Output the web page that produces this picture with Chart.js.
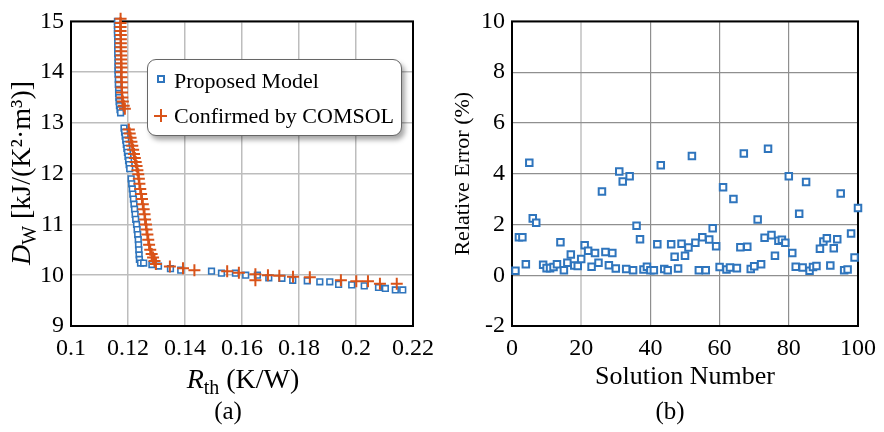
<!DOCTYPE html>
<html>
<head>
<meta charset="utf-8">
<script src="https://cdn.jsdelivr.net/npm/chart.js@4.4.1/dist/chart.umd.min.js"></script>
<style>
body { margin: 0; background: #fff; }
#wrap { position: relative; width: 884px; height: 432px; font-family: "Liberation Serif", serif; }
canvas { position: absolute; top: 0; }
.cap { position: absolute; top: 397px; width: 60px; text-align: center; font-size: 25px; }
#legend { position: absolute; left: 147px; top: 59px; width: 255px; height: 77px; border: 1.5px solid #666;
  border-radius: 9px; background: #fff; box-shadow: 3px 4px 5px rgba(0,0,0,0.35); box-sizing: border-box; font-size: 22px; }
.row { position: absolute; left: 26px; height: 30px; line-height: 30px; white-space: nowrap; }
.sq { position: absolute; left: 9px; width: 4px; height: 4px; border: 2px solid #2f75bd; }
.pl { position: absolute; left: 6px; width: 13px; height: 13px; }
.pl:before, .pl:after { content: ""; position: absolute; background: #d95319; }
.pl:before { left: 0; top: 5.5px; width: 13px; height: 2px; }
.pl:after { left: 5.5px; top: 0; width: 2px; height: 13px; }
</style>
</head>
<body>
<div id="wrap">
  <canvas id="chart-a" width="442" height="432" style="left:0"></canvas>
  <canvas id="chart-b" width="442" height="432" style="left:442px"></canvas>
  <div id="legend"></div>
  <div class="cap" style="left:198px">(a)</div>
  <div class="cap" style="left:640px">(b)</div>
</div>
<script>
// (a) D_W vs R_th
const rthModel = [0.1163, 0.1163, 0.1163, 0.1163, 0.1164, 0.1164, 0.1164, 0.1164, 0.1164, 0.1165, 0.1165, 0.1165, 0.1165, 0.1165,
  0.1166, 0.1166, 0.1167, 0.1167, 0.1168, 0.1169, 0.1170, 0.1172, 0.1174,
  0.1186, 0.1188, 0.1190, 0.1192, 0.1194, 0.1196, 0.1198, 0.1200, 0.1202, 0.1204, 0.1206, 0.1211, 0.1213, 0.1215,
  0.1217, 0.1219, 0.1221, 0.1223, 0.1225, 0.1227, 0.1230, 0.1232, 0.1234, 0.1236, 0.1237, 0.1238, 0.1239, 0.1240, 0.1244,
  0.1255, 0.1284, 0.1307, 0.1349, 0.1385, 0.1493, 0.1528, 0.1577, 0.1613, 0.1654, 0.1694, 0.1740, 0.1778, 0.1829,
  0.1873, 0.1908, 0.1939, 0.1985, 0.2029, 0.2079, 0.2103, 0.2138, 0.2164];
const dwModel = [15.00, 14.92, 14.84, 14.76, 14.68, 14.60, 14.52, 14.44, 14.36, 14.28, 14.20, 14.12, 14.04, 13.96,
  13.86, 13.76, 13.66, 13.58, 13.50, 13.42, 13.34, 13.26, 13.20,
  12.90, 12.82, 12.74, 12.66, 12.58, 12.50, 12.42, 12.34, 12.26, 12.18, 12.10, 11.90, 11.80, 11.70,
  11.60, 11.50, 11.40, 11.30, 11.20, 11.10, 11.00, 10.90, 10.80, 10.70, 10.60, 10.50, 10.40, 10.31, 10.24,
  10.24, 10.21, 10.18, 10.13, 10.10, 10.08, 10.04, 10.04, 10.00, 10.00, 9.95, 9.94, 9.90, 9.89,
  9.87, 9.87, 9.82, 9.81, 9.79, 9.76, 9.74, 9.71, 9.71];
const rthComsol = [0.1174, 0.1174, 0.1174, 0.1174, 0.1175, 0.1175, 0.1175, 0.1175, 0.1176, 0.1176, 0.1176, 0.1176, 0.1177, 0.1177,
  0.1177, 0.1178, 0.1178, 0.1179, 0.1180, 0.1182, 0.1185, 0.1189,
  0.1203, 0.1206, 0.1209, 0.1212, 0.1215, 0.1218, 0.1221, 0.1224, 0.1227, 0.1230, 0.1233, 0.1236, 0.1238, 0.1240,
  0.1243, 0.1246, 0.1249, 0.1252, 0.1255, 0.1258, 0.1260, 0.1263, 0.1265, 0.1268, 0.1271, 0.1274, 0.1278, 0.1283,
  0.1288, 0.1293, 0.1298,
  0.1347, 0.1393, 0.1433, 0.1548, 0.1589, 0.1647, 0.1647, 0.1691, 0.1731, 0.1779, 0.1838, 0.1947, 0.2001, 0.2042,
  0.2084, 0.2143];
const dwComsol = [15.05, 14.97, 14.89, 14.81, 14.73, 14.65, 14.57, 14.49, 14.41, 14.33, 14.25, 14.17, 14.09, 14.00,
  13.90, 13.80, 13.70, 13.60, 13.50, 13.42, 13.34, 13.28,
  12.87, 12.79, 12.71, 12.63, 12.55, 12.47, 12.39, 12.31, 12.23, 12.15, 12.07, 11.99, 11.90, 11.80,
  11.70, 11.60, 11.50, 11.40, 11.30, 11.20, 11.10, 11.00, 10.90, 10.80, 10.70, 10.60, 10.50, 10.42,
  10.35, 10.28, 10.22,
  10.17, 10.14, 10.10, 10.08, 10.05, 10.02, 9.90, 10.00, 9.99, 9.97, 9.96, 9.90, 9.88, 9.88,
  9.83, 9.83];

// (b) relative error per solution
const solutionNo = [1, 2, 3, 4, 5, 6, 7, 9, 10, 11, 12, 13, 14, 15, 16, 17, 18, 19, 20,
  21, 22, 23, 24, 25, 26, 27, 28, 29, 30, 31, 32, 33, 34, 35, 36, 37, 38, 39, 40,
  41, 42, 43, 44, 45, 46, 47, 48, 49, 50, 51, 52, 53, 54, 55, 56, 57, 58, 59, 60,
  61, 62, 63, 64, 65, 66, 67, 68, 69, 70, 71, 72, 73, 74, 75, 76, 77, 78, 79, 80,
  81, 82, 83, 84, 85, 86, 87, 88, 89, 90, 91, 92, 93, 94, 95, 96, 97, 98, 99, 100];
const relError = [0.18, 1.5, 1.5, 0.43, 4.43, 2.24, 2.07, 0.41, 0.28, 0.28, 0.32, 0.43, 1.3, 0.2, 0.49, 0.82, 0.38, 0.36, 0.64,
  1.18, 0.96, 0.33, 0.88, 0.49, 3.3, 0.92, 0.39, 0.88, 0.27, 4.09, 3.69, 0.25, 3.9, 0.2, 1.95, 1.42, 0.23, 0.33, 0.2,
  0.2, 1.22, 4.33, 0.25, 0.2, 1.22, 0.73, 0.27, 1.24, 0.77, 1.09, 4.7, 1.28, 0.2, 1.5, 0.2, 1.41, 1.85, 1.14, 0.32,
  3.47, 0.23, 0.3, 3.0, 0.28, 1.1, 4.8, 1.12, 0.25, 0.35, 2.2, 0.43, 1.48, 4.98, 1.58, 0.77, 1.36, 1.4, 1.28, 3.9,
  0.88, 0.33, 2.42, 0.3, 3.67, 0.18, 0.32, 0.36, 1.04, 1.33, 1.46, 0.38, 1.06, 1.42, 3.22, 0.2, 0.23, 1.64, 0.7, 2.65];

const blue = '#2f75bd';
const orange = '#d95319';
const serif = '"Liberation Serif", "Times New Roman", serif';

// titles with sub-/superscripts drawn by hand
const yTitleA = [{t: 'D', it: true}, {t: 'W', sub: true}, {t: ' [kJ/(K²·m³)]'}];
const xTitleA = [{t: 'R', it: true}, {t: 'th', sub: true}, {t: ' (K/W)'}];

function partFont(p, size) {
  return (p.it ? 'italic ' : '') + (p.sub ? Math.round(size * 0.7) : size) + 'px ' + serif;
}

function drawRich(ctx, parts, cx, cy, rot, size) {
  ctx.save();
  ctx.translate(cx, cy);
  ctx.rotate(rot);
  ctx.textBaseline = 'middle';
  ctx.fillStyle = '#000';
  let w = 0;
  parts.forEach(p => { ctx.font = partFont(p, size); w += ctx.measureText(p.t).width; });
  let x = -w / 2;
  parts.forEach(p => {
    ctx.font = partFont(p, size);
    ctx.fillText(p.t, x, p.sub ? size * 0.28 : 0);
    x += ctx.measureText(p.t).width;
  });
  ctx.restore();
}

const frame = {
  id: 'frame',
  beforeDatasetsDraw(chart) {
    const a = chart.chartArea;
    const ctx = chart.ctx;
    ctx.save();
    ctx.strokeStyle = '#000';
    ctx.lineWidth = 2;
    ctx.strokeRect(a.left, a.top, a.right - a.left, a.bottom - a.top);
    ctx.restore();
  }
};

const richTitles = {
  id: 'richTitles',
  afterDraw(chart) {
    if (chart.canvas.id !== 'chart-a') return;
    drawRich(chart.ctx, yTitleA, 23, 173, -Math.PI / 2, 28);
    drawRich(chart.ctx, xTitleA, 243, 381, 0, 28);
  }
};

function fixWidth(w) { return s => { s.width = w; }; }
function fixHeight(h) { return s => { s.height = h; }; }

const tickFont = {family: serif, size: 24};

new Chart(document.getElementById('chart-a'), {
  type: 'scatter',
  data: {
    datasets: [
      {
        label: 'Proposed Model',
        data: rthModel.map((x, i) => ({x: x, y: dwModel[i]})),
        pointStyle: 'rect',
        pointRadius: 4,
        borderWidth: 1.6,
        borderColor: blue,
        backgroundColor: '#fff',
        order: 1,
        clip: false
      },
      {
        label: 'Confirmed by COMSOL',
        data: rthComsol.map((x, i) => ({x: x, y: dwComsol[i]})),
        pointStyle: 'cross',
        pointRadius: 6,
        borderWidth: 2,
        borderColor: orange,
        order: 0,
        clip: false
      }
    ]
  },
  options: {
    responsive: false,
    animation: false,
    layout: {padding: {top: 14, right: 23, left: 0, bottom: 0}},
    scales: {
      x: {
        min: 0.1, max: 0.22,
        afterFit: fixHeight(106),
        border: {display: false},
        grid: {color: '#bdbdbd', lineWidth: 1.5, drawTicks: false},
        ticks: {stepSize: 0.02, color: '#000', font: tickFont, padding: 8, maxRotation: 0,
          callback: v => String(Number(v.toFixed(2)))}
      },
      y: {
        min: 9, max: 15,
        afterFit: fixWidth(71),
        border: {display: false},
        grid: {color: '#bdbdbd', lineWidth: 1.5, drawTicks: false},
        ticks: {stepSize: 1, color: '#000', font: tickFont, padding: 7}
      }
    },
    plugins: {legend: {display: false}, tooltip: {enabled: false}}
  },
  plugins: [frame, richTitles]
});

new Chart(document.getElementById('chart-b'), {
  type: 'scatter',
  data: {
    datasets: [{
      label: 'Relative Error',
      data: solutionNo.map((n, i) => ({x: n, y: relError[i]})),
      pointStyle: 'rect',
      pointRadius: 4.6,
      borderWidth: 2,
      borderColor: blue,
      backgroundColor: '#fff',
      clip: false
    }]
  },
  options: {
    responsive: false,
    animation: false,
    layout: {padding: {top: 14, right: 25, left: 0, bottom: 0}},
    scales: {
      x: {
        min: 0, max: 100,
        afterFit: fixHeight(106),
        border: {display: false},
        grid: {color: c => c.index === 1 ? '#d0d0d0' : '#8f8f8f', lineWidth: c => c.index === 1 ? 2 : 1.2, drawTicks: false},
        ticks: {stepSize: 20, color: '#000', font: tickFont, padding: 8, maxRotation: 0},
        title: {display: true, text: 'Solution Number', color: '#000', font: {family: serif, size: 26},
          padding: {top: 0, bottom: 39}}
      },
      y: {
        min: -2, max: 10,
        afterFit: fixWidth(70),
        border: {display: false},
        grid: {color: '#8f8f8f', lineWidth: 1.2, drawTicks: false},
        ticks: {stepSize: 2, color: '#000', font: tickFont, padding: 7},
        title: {display: true, text: 'Relative Error (%)', color: '#000', font: {family: serif, size: 22},
          padding: {top: 8, bottom: 0}}
      }
    },
    plugins: {legend: {display: false}, tooltip: {enabled: false}}
  },
  plugins: [frame]
});

// legend box of chart (a)
const legendItems = [
  {label: 'Proposed Model', cls: 'sq', top: 6, markTop: 15},
  {label: 'Confirmed by COMSOL', cls: 'pl', top: 41, markTop: 49}
];
const legendBox = document.getElementById('legend');
legendItems.forEach(it => {
  const mark = document.createElement('span');
  mark.className = it.cls;
  mark.style.top = it.markTop + 'px';
  const row = document.createElement('div');
  row.className = 'row';
  row.style.top = it.top + 'px';
  row.textContent = it.label;
  legendBox.appendChild(mark);
  legendBox.appendChild(row);
});
</script>
</body>
</html>
